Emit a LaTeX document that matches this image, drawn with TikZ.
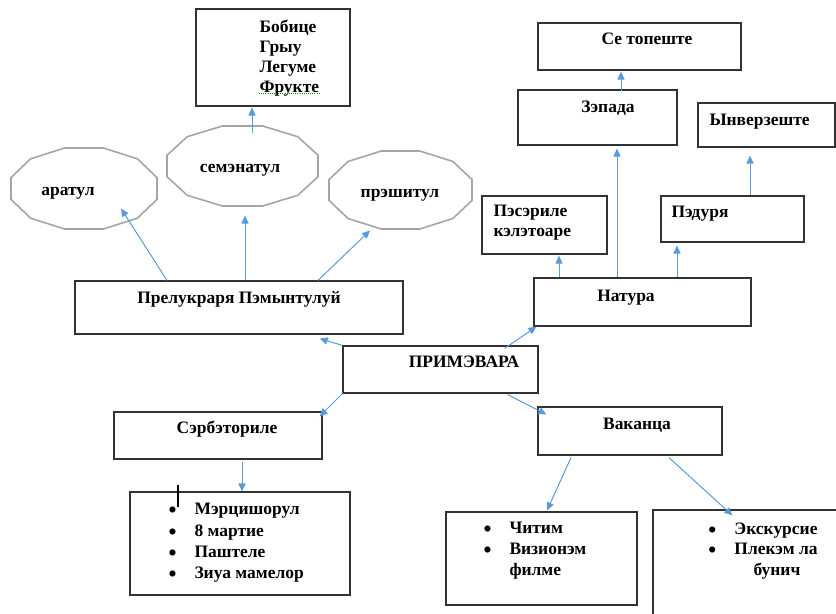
\documentclass[tikz,border=0pt]{standalone}
\usepackage{fontspec}
\setmainfont{Liberation Serif}
\usetikzlibrary{arrows.meta,calc,fit,positioning}

\definecolor{linkblue}{RGB}{91,155,213}
\definecolor{boxgray}{RGB}{50,50,50}
\definecolor{polygray}{RGB}{165,165,165}

\tikzset{every picture/.style={line width=0.75pt}}
\tikzset{
  box/.style={draw=boxgray, line width=0.9pt, inner sep=0pt},
  spot/.style={inner sep=0pt},
  dodeca/.style={draw=polygray, line width=1.2pt},
  link/.style={draw=linkblue, line width=0.75pt, -{Triangle[length=6pt,width=5.4pt]}},
  lbl/.style={inner sep=0pt, align=left, font=\fontsize{13.1}{15}\selectfont\bfseries},
  lst/.style={inner sep=0pt, font=\fontsize{13.1}{#1}\selectfont\bfseries},
  lst/.default=16
}
\newcommand{\blt}{\makebox[19.5pt][l]{\raisebox{-2.2pt}{\fontsize{17}{17}\selectfont•}}}

\begin{document}
\begin{tikzpicture}[x=0.75pt,y=0.75pt,yscale=-1,xscale=1]
\useasboundingbox (0,0) rectangle (836,614);

% boxes
\node[box, fit={(196,9) (350,106)}] (bobice) {};
\node[box, fit={(538,23) (741,70)}] (setop) {};
\node[box, fit={(518,90) (677,145)}] (zapada) {};
\node[box, fit={(698,103) (835,147)}] (inverz) {};
\node[box, fit={(482,196) (607,254)}] (paseri) {};
\node[box, fit={(661,196) (804,242)}] (padure) {};
\node[box, fit={(534,278) (751,326)}] (natura) {};
\node[box, fit={(75,281) (403,334)}] (prel) {};
\node[box, fit={(343,346) (538,393)}] (prim) {};
\node[box, fit={(114,412) (322,459)}] (serb) {};
\node[box, fit={(538,407) (722,455)}] (vacanta) {};
\node[box, fit={(130,492) (350,595)}] (martis) {};
\node[box, fit={(446,512) (637,605)}] (citim) {};
\node[box, fit={(653,510) (850,630)}] (excurs) {};

% twelve-sided shapes
\node[spot, fit={(11,148) (157,229)}] (aratul) {};
\node[spot, fit={(167,126) (318,206)}] (sem) {};
\node[spot, fit={(329,151) (472,229)}] (prasit) {};
\foreach \n/\rx/\ry in {aratul/75.6/41.9, sem/78.2/41.4, prasit/74/40.4}
  \draw[dodeca] ($(\n)+({\rx*cos(15)},{\ry*sin(15)})$) \foreach \a in {45,75,...,345} {-- ($(\n)+({\rx*cos(\a)},{\ry*sin(\a)})$)} -- cycle;

% arrows
\draw[link] ($(prel.north)+(-72,0)$) -- ($(aratul)+(37,20)$);
\draw[link] ($(prel.north)+(6,0)$) -- ($(sem.south)+(2.5,9)$);
\draw[link] ($(prel.north)+(79,0)$) -- ($(prasit.south)+(-30.5,1)$);
\draw[link] ($(sem.north)+(9.5,7)$) -- ($(bobice.south)+(-21,1)$);
\draw[link] ($(natura.north)+(-25.5,0)$) -- ($(zapada.south)+(19.5,3)$);
\draw[link] ($(zapada.north)+(23.5,2)$) -- ($(setop.south)+(-18.5,1)$);
\draw[link] ($(natura.north)+(-83.5,0)$) -- ($(paseri.south)+(14.5,1)$);
\draw[link] ($(natura.north)+(34.5,0)$) -- ($(padure.south)+(-55.5,3)$);
\draw[link] ($(padure.north)+(17.5,0)$) -- ($(inverz.south)+(-16.5,8)$);
\draw[link] (prim.north west) -- ($(prel.south east)+(-84,4)$);
\draw[link] (prim.south west) -- ($(serb.north east)+(-3,5)$);
\draw[link] ($(prim.north east)+(-34,3)$) -- ($(natura.south west)+(3,0)$);
\draw[link] ($(prim.south east)+(-31,1)$) -- ($(vacanta.north west)+(9,8)$);
\draw[link] ($(serb.south)+(24,2)$) -- ($(martis.north)+(2,0)$);
\draw[link] ($(vacanta.south)+(-59,2)$) -- ($(citim.north)+(5.5,-1)$);
\draw[link] ($(vacanta.south)+(39,2)$) -- ($(excurs.north west)+(80,6)$);

% texts
\node[lbl, anchor=north west] (bobiceT) at (259,19) {Бобице\\Грыу\\Легуме\\Фрукте};
\draw[green!55!black, densely dotted, line width=0.6pt] (259,93) -- (320,93);
\node[lbl, anchor=base] (setopT) at (647,44) {Се топеште};
\node[lbl, anchor=base] (zapadaT) at (608,112) {Зэпада};
\node[lbl, anchor=base west] (inverzT) at (709,125) {Ынверзеште};
\node[lbl, anchor=north west] (paseriT) at (493,205) {Пэсэриле\\кэлэтоаре};
\node[lbl, anchor=base west] (padureT) at (671,217) {Пэдуря};
\node[lbl, anchor=base] (naturaT) at (626,301) {Натура};
\node[lbl, anchor=base] (primT) at (464,367) {ПРИМЭВАРА};
\node[lbl, anchor=base] (prelT) at (239,303) {Прелукраря Пэмынтулуй};
\node[lbl, anchor=base] (serbT) at (227,433) {Сэрбэториле};
\node[lbl, anchor=base] (vacantaT) at (637,429) {Ваканца};
\node[lbl, anchor=base] (aratulT) at (68,195) {аратул};
\node[lbl, anchor=base] (semT) at (240,172) {семэнатул};
\node[lbl, anchor=base] (prasitT) at (400,197) {прэшитул};
\node[lst, align=left, anchor=north west] (martisT) at (168,503) {\blt Мэрцишорул\\ \blt 8 мартие\\ \blt Паштеле\\ \blt Зиуа мамелор};
\node[lst=15.5, align=left, anchor=north west] (citimT) at (483,522) {\blt Читим\\ \blt Визионэм\\ \hspace*{19.5pt}филме};
\node[lst=15.5, align=center, anchor=north] (excursT) at (763,522) {\blt Экскурсие\\ \blt Плекэм ла\\ \hspace*{21pt}бунич};
\draw[line width=0.8pt] (178,485) -- (178,507);
\end{tikzpicture}
\end{document}
